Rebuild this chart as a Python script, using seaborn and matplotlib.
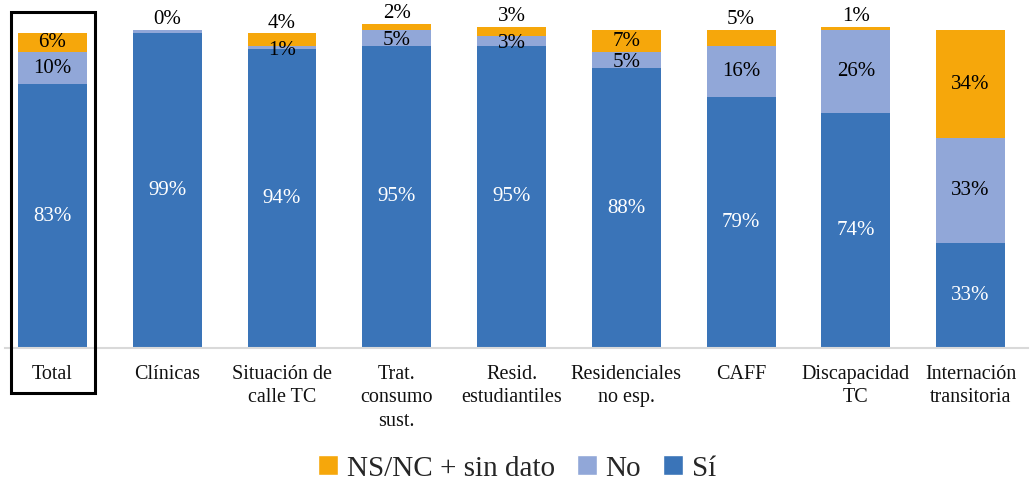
import matplotlib
matplotlib.use("Agg")
import matplotlib.pyplot as plt
from matplotlib.patches import Patch, Rectangle
import numpy as np
import pandas as pd
import seaborn as sns

categories = ["Total", "Clínicas", "Situación de\ncalle TC", "Trat.\nconsumo\nsust.",
              "Resid.\nestudiantiles", "Residenciales\nno esp.", "CAFF",
              "Discapacidad\nTC", "Internación\ntransitoria"]
si = [83, 99, 94, 95, 95, 88, 79, 74, 33]
no = [10, 1, 1, 5, 3, 5, 16, 26, 33]
nsnc = [6, 0, 4, 2, 3, 7, 5, 1, 34]
no_label_shown = [True, False, True, True, True, True, True, True, True]

c_si = "#3A74B8"
c_no = "#91A7D8"
c_ns = "#F6A70B"

sns.set_theme(style="white")
plt.rcParams["font.family"] = ["Liberation Serif", "DejaVu Serif"]

df = pd.DataFrame({"cat": categories, "si": si, "no": no, "ns": nsnc})
df["si_no"] = df["si"] + df["no"]
df["all"] = df["si_no"] + df["ns"]

fig = plt.figure(figsize=(10.34, 4.82), dpi=100)
ax = fig.add_axes([5 / 1034, (482 - 348) / 482, 1023 / 1034, 343.4 / 482])

# stacked bars: draw cumulative totals from the top layer down
bar_kw = dict(x="cat", width=0.6, saturation=1, linewidth=0, edgecolor="none", ax=ax)
sns.barplot(data=df, y="all", color=c_ns, **bar_kw)
sns.barplot(data=df, y="si_no", color=c_no, **bar_kw)
sns.barplot(data=df, y="si", color=c_si, **bar_kw)

ax.set_xlim(-0.414, 8.5)
ax.set_ylim(0, 108)
ax.set_xlabel("")
ax.set_ylabel("")
ax.set_yticks([])
for s in ["top", "right", "left"]:
    ax.spines[s].set_visible(False)
ax.spines["bottom"].set_color("#d9d9d9")
ax.spines["bottom"].set_linewidth(1.5)
ax.tick_params(axis="x", length=0, pad=12, labelsize=14.5, colors="#111111")
for lbl in ax.get_xticklabels():
    lbl.set_linespacing(1.32)

fs = 15
for i in range(len(categories)):
    s, n, k = si[i], no[i], nsnc[i]
    ax.text(i, s / 2, f"{s}%", ha="center", va="center", color="white", fontsize=fs)
    if no_label_shown[i]:
        ax.text(i, s + n / 2 - (0.8 if n < 6 else 0), f"{n}%", ha="center", va="center",
                color="black", fontsize=fs)
    if k <= 5:
        ax.text(i, s + n + k + 0.2, f"{k}%", ha="center", va="bottom",
                color="black", fontsize=fs)
    else:
        ax.text(i, s + n + k / 2, f"{k}%", ha="center", va="center",
                color="black", fontsize=fs)

# frame highlighting the overall column
ax.add_patch(Rectangle((-0.362, -14.2), 0.732, 119.9, fill=False, edgecolor="black",
                       linewidth=2.2, clip_on=False, zorder=5))

handles = [Patch(facecolor=c_ns, label="NS/NC + sin dato"),
           Patch(facecolor=c_no, label="No"),
           Patch(facecolor=c_si, label="Sí")]
fig.legend(handles=handles, loc="center", bbox_to_anchor=(0.5, 0.028), ncol=3,
           frameon=False, fontsize=21, handlelength=0.68, handleheight=0.68,
           handletextpad=0.3, columnspacing=0.75)

fig.savefig("out.png", dpi=100)
